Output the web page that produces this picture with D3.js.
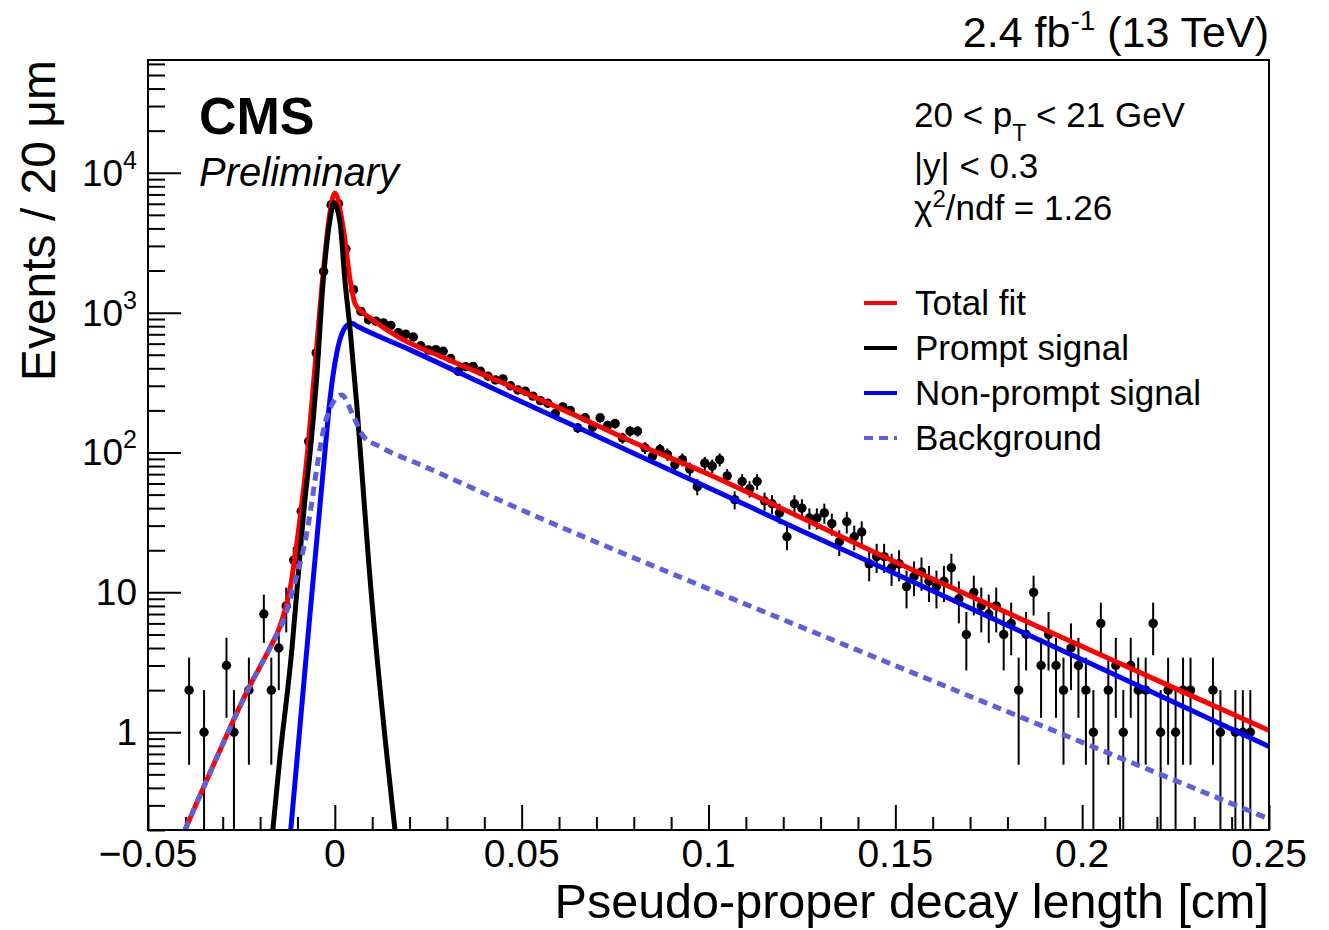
<!DOCTYPE html>
<html>
<head>
<meta charset="utf-8">
<script src="https://cdn.jsdelivr.net/npm/d3@7"></script>
<style>
  body { margin: 0; background: #fff; }
  svg { font-family: "Liberation Sans", Arial, Helvetica, sans-serif; }
</style>
</head>
<body>
<svg id="chart" width="1329" height="930"></svg>
<script>
// bin centres [cm] and event counts (empty bins are not drawn)
var binCentre = [
  -0.039, -0.035, -0.029, -0.027, -0.023, -0.019, -0.017, -0.015, -0.013, -0.011,
  -0.009, -0.007, -0.005, -0.003, -0.001, 0.001, 0.003, 0.005, 0.007, 0.009,
  0.011, 0.013, 0.015, 0.017, 0.019, 0.021, 0.023, 0.025, 0.027, 0.029,
  0.031, 0.033, 0.035, 0.037, 0.039, 0.041, 0.043, 0.045, 0.047, 0.049,
  0.051, 0.053, 0.055, 0.057, 0.059, 0.061, 0.063, 0.065, 0.067, 0.069,
  0.071, 0.073, 0.075, 0.077, 0.079, 0.081, 0.083, 0.085, 0.087, 0.089,
  0.091, 0.093, 0.095, 0.097, 0.099, 0.101, 0.103, 0.105, 0.107, 0.109,
  0.111, 0.113, 0.115, 0.117, 0.119, 0.121, 0.123, 0.125, 0.127, 0.129,
  0.131, 0.133, 0.135, 0.137, 0.139, 0.141, 0.143, 0.145, 0.147, 0.149,
  0.151, 0.153, 0.155, 0.157, 0.159, 0.161, 0.163, 0.165, 0.167, 0.169,
  0.171, 0.173, 0.175, 0.177, 0.179, 0.181, 0.183, 0.185, 0.187, 0.189,
  0.191, 0.193, 0.195, 0.197, 0.199, 0.201, 0.203, 0.205, 0.207, 0.209,
  0.211, 0.213, 0.215, 0.217, 0.219, 0.221, 0.223, 0.225, 0.227, 0.229,
  0.235, 0.237, 0.241, 0.243, 0.245
];
var events = [
  2, 1, 3, 1, 2, 7, 2, 4, 8, 17,
  38, 120, 515, 1970, 5900, 6000, 2850, 1460, 1020, 890,
  870, 845, 810, 720, 700, 670, 580, 540, 544, 529,
  470, 381, 410, 413, 381, 351, 330, 336, 300, 280,
  274, 253, 235, 225, 190, 212, 200, 150, 177, 152,
  177, 156, 161, 127, 142, 142, 108, 94, 105, 97,
  82, 89, 76, 57, 84, 80, 89, 68, 46, 62,
  55, 62, 45, 43, 37, 25, 43, 40, 34, 34,
  37, 31, 23, 32, 25, 27, 16, 18, 18, 15,
  16, 11, 13, 14, 12, 11, 12, 15, 9, 5,
  10, 8, 7, 8, 5, 6, 2, 5, 10, 3,
  5, 3, 2, 4, 3, 2, 1, 6, 2, 3,
  1, 3, 2, 2, 6, 1, 2, 1, 2, 2,
  2, 1, 1, 1, 1
];

// fit curves, [decay length, events]
var totalFit = [
  [-0.0401, 0.2], [-0.0316, 0.66], [-0.0232, 2.03], [-0.0174, 4.0], [-0.0147, 5.7],
  [-0.0120, 10.5], [-0.0098, 26.7], [-0.0075, 90], [-0.0053, 414], [-0.0031, 1940],
  [-0.0013, 5200], [0.0000, 7160], [0.0023, 3920], [0.0041, 1700], [0.0054, 1160],
  [0.0072, 1016], [0.0094, 915], [0.0174, 660], [0.0300, 466], [0.0450, 314],
  [0.0629, 192], [0.0800, 118], [0.1000, 70], [0.1250, 34], [0.1500, 16.5],
  [0.1750, 8.2], [0.2000, 4.1], [0.2250, 2.05], [0.2500, 1.03]
];
var promptSignal = [
  [-0.0166, 0.2], [-0.0147, 0.66], [-0.0115, 3.9], [-0.0102, 9.9], [-0.0080, 46],
  [-0.0067, 95], [-0.0049, 331], [-0.0031, 1700], [-0.0013, 4600], [-0.0003, 6100],
  [0.0014, 4370], [0.0027, 1700], [0.0041, 750], [0.0059, 215], [0.0072, 75],
  [0.0090, 17.2], [0.0161, 0.2]
];
var nonPromptSignal = [
  [-0.0118, 0.2], [-0.0072, 4.8], [-0.0026, 105], [-0.0013, 240], [0.0005, 512],
  [0.0023, 752], [0.0036, 825], [0.0045, 840], [0.0060, 800], [0.0200, 544],
  [0.0442, 272], [0.0700, 131], [0.1000, 56], [0.1250, 27.5], [0.1500, 13.6],
  [0.1750, 6.7], [0.2000, 3.3], [0.2250, 1.62], [0.2500, 0.79]
];
var background = [
  [-0.0401, 0.2], [-0.0316, 0.66], [-0.0232, 2.03], [-0.0174, 4.0], [-0.0133, 6.8],
  [-0.0115, 9.9], [-0.0075, 26.7], [-0.0040, 105], [-0.0026, 163], [0.0018, 258],
  [0.0050, 181], [0.0076, 131], [0.0121, 110], [0.0237, 80], [0.0549, 34],
  [0.1000, 10.6], [0.1459, 3.32], [0.2164, 0.56], [0.2500, 0.24]
];

var xTickValues = [-0.05, 0, 0.05, 0.1, 0.15, 0.2, 0.25];
var xTickLabels = ["\u22120.05", "0", "0.05", "0.1", "0.15", "0.2", "0.25"];
var yTickValues = [1, 10, 100, 1000, 10000];
var yTickBase = ["1", "10", "10", "10", "10"];
var yTickExp = ["", "", "2", "3", "4"];

var legendNames = ["Total fit", "Prompt signal", "Non-prompt signal", "Background"];
var legendColors = ["#ff0000", "#000000", "#0000ff", "#5f5fdc"];
var legendDash = [null, null, null, "9,6"];

var svg = d3.select("#chart");
var fL = 148, fR = 1269, fT = 60, fB = 830;

var x = d3.scaleLinear().domain([-0.05, 0.25]).range([fL, fR]);
var y = d3.scaleLog().domain([0.2, 64000]).range([fB, fT]);

svg.append("defs").append("clipPath").attr("id", "plotclip")
  .append("rect")
    .attr("x", fL).attr("y", fT)
    .attr("width", fR - fL).attr("height", fB - fT);

// axes ticks (inside the frame)
var xMinor = d3.range(-0.04, 0.2501, 0.01).filter(function(v) {
  return Math.abs(Math.round(v * 100) % 5) !== 0;
});
svg.append("g")
    .attr("transform", "translate(0," + fB + ")")
    .call(d3.axisBottom(x).tickValues(xMinor).tickSize(-13).tickFormat(""))
    .call(function(g) { g.select(".domain").remove(); })
    .selectAll("line").attr("stroke-width", 2);
svg.append("g")
    .attr("transform", "translate(0," + fB + ")")
    .call(d3.axisBottom(x).tickValues(xTickValues).tickSize(-25).tickFormat(""))
    .call(function(g) { g.select(".domain").remove(); })
    .selectAll("line").attr("stroke-width", 2);

var yMinor = [];
[0.1, 1, 10, 100, 1000, 10000].forEach(function(d) {
  for (var k = 2; k <= 9; k++) {
    var v = d * k;
    if (v >= 0.2 && v <= 64000) yMinor.push(v);
  }
});
svg.append("g")
    .attr("transform", "translate(" + fL + ",0)")
    .call(d3.axisLeft(y).tickValues(yMinor).tickSize(-17).tickFormat(""))
    .call(function(g) { g.select(".domain").remove(); })
    .selectAll("line").attr("stroke-width", 2);
svg.append("g")
    .attr("transform", "translate(" + fL + ",0)")
    .call(d3.axisLeft(y).tickValues(yTickValues).tickSize(-33).tickFormat(""))
    .call(function(g) { g.select(".domain").remove(); })
    .selectAll("line").attr("stroke-width", 2);

// tick labels
svg.append("g").selectAll("text")
  .data(xTickValues)
  .enter().append("text")
    .attr("x", function(d) { return x(d); })
    .attr("y", 867)
    .attr("text-anchor", "middle")
    .attr("font-size", 39)
    .text(function(d, i) { return xTickLabels[i]; });

var yl = svg.append("g").selectAll("text")
  .data(yTickValues)
  .enter().append("text")
    .attr("x", 137)
    .attr("y", function(d) { return y(d) + 13; })
    .attr("text-anchor", "end")
    .attr("font-size", 37);
yl.append("tspan").text(function(d, i) { return yTickBase[i]; });
yl.append("tspan")
    .attr("font-size", 25)
    .attr("dy", -17)
    .text(function(d, i) { return yTickExp[i]; });

// data points with sqrt(N) errors
var pts = svg.append("g").attr("clip-path", "url(#plotclip)");
pts.selectAll("line")
  .data(binCentre)
  .enter().append("line")
    .attr("x1", function(d) { return x(d); })
    .attr("x2", function(d) { return x(d); })
    .attr("y1", function(d, i) { var n = events[i]; return y(Math.max(n - Math.sqrt(n), 0.1)); })
    .attr("y2", function(d, i) { var n = events[i]; return y(n + Math.sqrt(n)); })
    .attr("stroke", "#000")
    .attr("stroke-width", 2);
pts.selectAll("circle")
  .data(binCentre)
  .enter().append("circle")
    .attr("cx", function(d) { return x(d); })
    .attr("cy", function(d, i) { return y(events[i]); })
    .attr("r", 4.7)
    .attr("fill", "#000");

// fit curves
var line = d3.line()
    .x(function(d) { return x(d[0]); })
    .y(function(d) { return y(d[1]); })
    .curve(d3.curveMonotoneX);

var curves = svg.append("g").attr("clip-path", "url(#plotclip)");
curves.append("path").datum(totalFit)
    .attr("d", line).attr("fill", "none")
    .attr("stroke", legendColors[0]).attr("stroke-width", 5);
curves.append("path").datum(nonPromptSignal)
    .attr("d", line).attr("fill", "none")
    .attr("stroke", legendColors[2]).attr("stroke-width", 5);
curves.append("path").datum(promptSignal)
    .attr("d", line).attr("fill", "none")
    .attr("stroke", legendColors[1]).attr("stroke-width", 5);
curves.append("path").datum(background)
    .attr("d", line).attr("fill", "none")
    .attr("stroke", legendColors[3]).attr("stroke-width", 5)
    .attr("stroke-dasharray", legendDash[3]);

// frame
svg.append("rect")
    .attr("x", fL).attr("y", fT)
    .attr("width", fR - fL).attr("height", fB - fT)
    .attr("fill", "none").attr("stroke", "#000").attr("stroke-width", 2);

// axis titles
svg.append("text")
    .attr("x", fR).attr("y", 918)
    .attr("text-anchor", "end")
    .attr("font-size", 48.5)
    .text("Pseudo-proper decay length [cm]");
svg.append("text")
    .attr("transform", "translate(55," + fT + ") rotate(-90)")
    .attr("text-anchor", "end")
    .attr("font-size", 48)
    .text("Events / 20 \u03bcm");

// CMS labels
svg.append("text")
    .attr("x", 199).attr("y", 134)
    .attr("font-size", 52).attr("font-weight", "bold")
    .text("CMS");
svg.append("text")
    .attr("x", 199).attr("y", 186)
    .attr("font-size", 40).attr("font-style", "italic")
    .text("Preliminary");

var lumi = svg.append("text")
    .attr("x", fR).attr("y", 47)
    .attr("text-anchor", "end")
    .attr("font-size", 43);
lumi.append("tspan").text("2.4 fb");
lumi.append("tspan").attr("font-size", 28).attr("dy", -17).text("-1");
lumi.append("tspan").attr("dy", 17).text(" (13 TeV)");

// selection text
var t1 = svg.append("text").attr("x", 914).attr("y", 127).attr("font-size", 35);
t1.append("tspan").text("20 < p");
t1.append("tspan").attr("font-size", 23).attr("dy", 14).text("T");
t1.append("tspan").attr("dy", -14).text(" < 21 GeV");
svg.append("text").attr("x", 914).attr("y", 178).attr("font-size", 35)
    .text("|y| < 0.3");
var t3 = svg.append("text").attr("x", 914).attr("y", 220).attr("font-size", 35);
t3.append("tspan").text("\u03c7");
t3.append("tspan").attr("font-size", 24).attr("dy", -13).text("2");
t3.append("tspan").attr("dy", 13).text("/ndf = 1.26");

// legend
var leg = svg.append("g").selectAll("g")
  .data(legendNames)
  .enter().append("g")
    .attr("transform", function(d, i) { return "translate(0," + (303 + i * 45) + ")"; });
leg.append("line")
    .attr("x1", 864).attr("x2", 897)
    .attr("stroke", function(d, i) { return legendColors[i]; })
    .attr("stroke-width", 4)
    .attr("stroke-dasharray", function(d, i) { return legendDash[i]; });
leg.append("text")
    .attr("x", 915).attr("y", 12)
    .attr("font-size", 35)
    .text(function(d) { return d; });
</script>
</body>
</html>
